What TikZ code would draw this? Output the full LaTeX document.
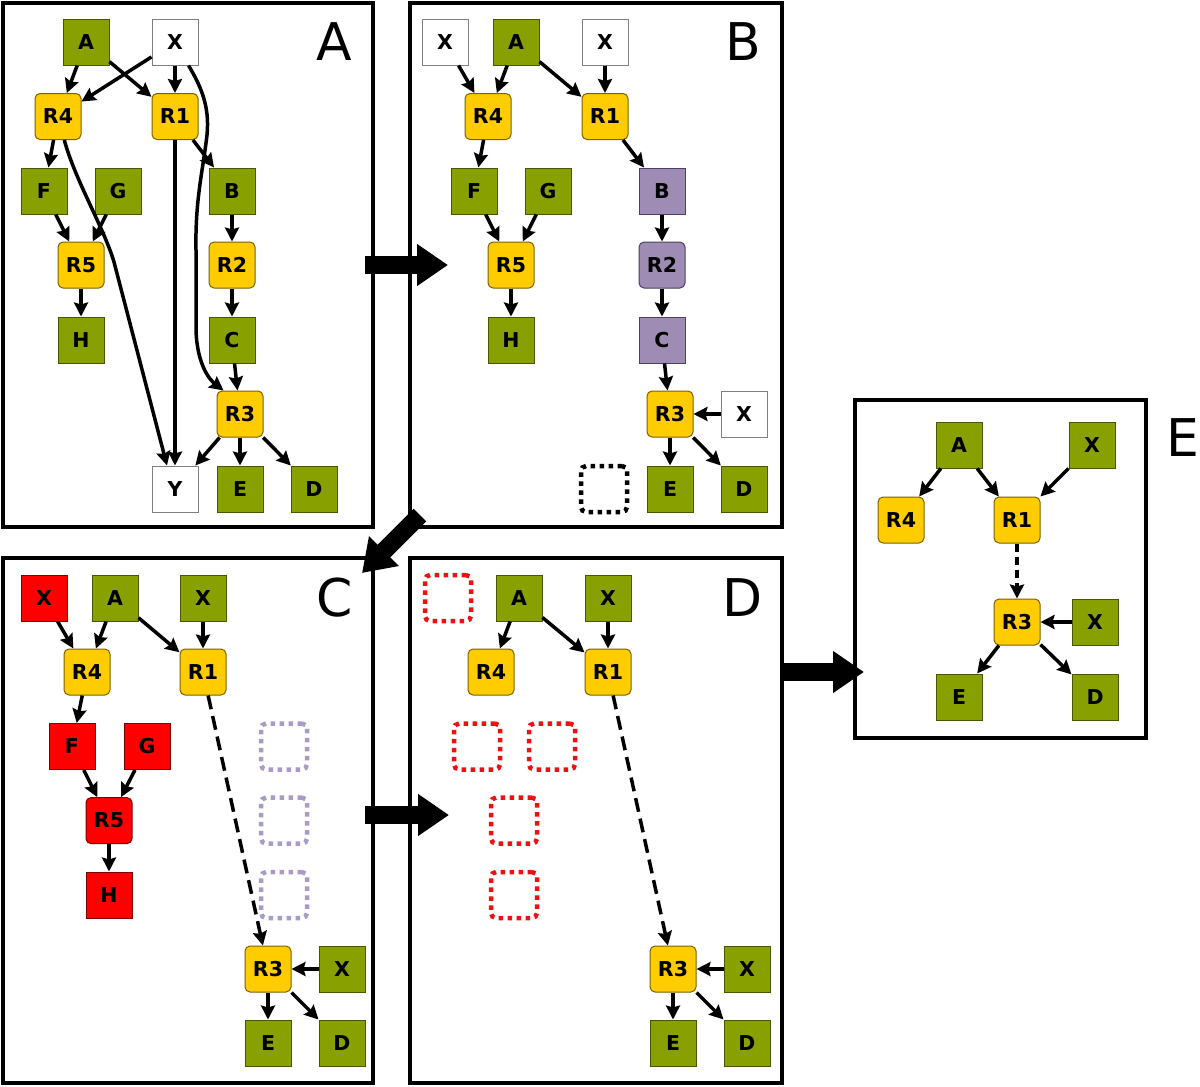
\documentclass[tikz,border=0pt]{standalone}
\usepackage{fontspec}
\setmainfont{DejaVu Sans}
\usetikzlibrary{arrows.meta,calc}
\definecolor{grn}{HTML}{88A000}
\definecolor{grnd}{HTML}{4A5600}
\definecolor{ylw}{HTML}{FFCC00}
\definecolor{ylwd}{HTML}{7A6200}
\definecolor{prp}{HTML}{9F8CB4}
\definecolor{prpd}{HTML}{4D4060}
\definecolor{prpl}{HTML}{A99BC3}
\definecolor{rdd}{HTML}{800000}
\definecolor{rdot}{HTML}{EE1111}
\begin{document}
\begin{tikzpicture}[x=1pt,y=-1pt,
 nd/.style={minimum size=46pt, inner sep=0pt, line width=1pt, font=\bfseries\fontsize{20.5}{22}\selectfont},
 gn/.style={nd, fill=grn, draw=grnd},
 wn/.style={nd, fill=white, draw=gray},
 yn/.style={nd, fill=ylw, draw=ylwd, rounded corners=5pt},
 pn/.style={nd, fill=prp, draw=prpd},
 pr/.style={pn, rounded corners=5pt},
 rn/.style={nd, fill=red, draw=rdd},
 rr/.style={rn, rounded corners=5pt},
 dotbox/.style={minimum size=46pt, inner sep=0pt, line width=4.5pt, dash pattern=on 4.5pt off 4.5pt, rounded corners=5pt},
 arr/.style={line width=3.5pt, -{Stealth[length=14pt,width=14pt,inset=2pt]}},
 dsh/.style={arr, dash pattern=on 14pt off 7pt},
 panelframe/.style={line width=4.5pt},
 big/.style={line width=18pt, -{Triangle[length=31pt,width=40pt]}},
 lbl/.style={font=\fontsize{52}{60}\selectfont, inner sep=0pt}
]
\useasboundingbox (0,0) rectangle (1200,1087);
\fill[white] (0,0) rectangle (1200,1087);

% frames
\draw[panelframe] (3,3) rectangle (373,527);
\draw[panelframe] (410,3) rectangle (782,527);
\draw[panelframe] (3,558) rectangle (373,1083);
\draw[panelframe] (410,558) rectangle (782,1083);
\draw[panelframe] (855,400) rectangle (1146,738);

% panel labels
\node[lbl] (labA) at (334,42) {A};
\node[lbl] (labB) at (743,42) {B};
\node[lbl] (labC) at (335,598) {C};
\node[lbl] (labD) at (743,598) {D};
\node[lbl] (labE) at (1183,438) {E};

% ---------- Panel A ----------
\node[gn] (aA) at (86,42) {A};
\node[wn] (aX) at (175,42) {X};
\node[yn] (aR4) at (58,116.5) {R4};
\node[yn] (aR1) at (175,116.5) {R1};
\node[gn] (aF) at (44,191) {F};
\node[gn] (aG) at (118,191) {G};
\node[gn] (aB) at (232,191) {B};
\node[yn] (aR5) at (81,265) {R5};
\node[yn] (aR2) at (232,265) {R2};
\node[gn] (aH) at (81,340) {H};
\node[gn] (aC) at (232,340) {C};
\node[yn] (aR3) at (240,414) {R3};
\node[wn] (aY) at (175,489) {Y};
\node[gn] (aE) at (240,489) {E};
\node[gn] (aD) at (314,489) {D};

\draw[arr] (aA) -- (aR4);
\draw[arr] (aX) -- (aR4);
\draw[arr] (aA) -- (aR1);
\draw[arr] (aX) -- (aR1);
\draw[arr] (aR4) -- (aF);
\draw[arr] (aR1) -- (aB);
\draw[arr] (aF) -- (aR5);
\draw[arr] (aG) -- (aR5);
\draw[arr] (aR5) -- (aH);
\draw[arr] (aB) -- (aR2);
\draw[arr] (aR2) -- (aC);
\draw[arr] (aC) -- (aR3);
\draw[arr] (aR3) -- (aY);
\draw[arr] (aR3) -- (aE);
\draw[arr] (aR3) -- (aD);
\draw[arr] (aR1) -- (aY);
\draw[arr] (aX.-60) .. controls (200,85) and (210,105) .. (207,135)
  .. controls (203,170) and (195,200) .. (196,250) -- (196,330)
  .. controls (197,365) and (210,380) .. (aR3.125);
\draw[arr] (aR4.-75) .. controls (75,180) and (104,228) .. (114,262) -- ($(aY.north)+(-8,0)$);

% ---------- Panel B ----------
\node[wn] (bX1) at (445,42) {X};
\node[gn] (bA) at (516,42) {A};
\node[wn] (bX2) at (605,42) {X};
\node[yn] (bR4) at (488,116.5) {R4};
\node[yn] (bR1) at (605,116.5) {R1};
\node[gn] (bF) at (474,191) {F};
\node[gn] (bG) at (548,191) {G};
\node[pn] (bB) at (662,191) {B};
\node[yn] (bR5) at (511,265) {R5};
\node[pr] (bR2) at (662,265) {R2};
\node[gn] (bH) at (511,340) {H};
\node[pn] (bC) at (662,340) {C};
\node[yn] (bR3) at (670,414) {R3};
\node[wn] (bX3) at (744,414) {X};
\node[gn] (bE) at (670,489) {E};
\node[gn] (bD) at (744,489) {D};
\node[dotbox, draw=black] (bdot) at (604,489) {};

\draw[arr] (bX1) -- (bR4);
\draw[arr] (bA) -- (bR4);
\draw[arr] (bA) -- (bR1);
\draw[arr] (bX2) -- (bR1);
\draw[arr] (bR4) -- (bF);
\draw[arr] (bR1) -- (bB);
\draw[arr] (bF) -- (bR5);
\draw[arr] (bG) -- (bR5);
\draw[arr] (bR5) -- (bH);
\draw[arr] (bB) -- (bR2);
\draw[arr] (bR2) -- (bC);
\draw[arr] (bC) -- (bR3);
\draw[arr] (bX3) -- (bR3);
\draw[arr] (bR3) -- (bE);
\draw[arr] (bR3) -- (bD);

% ---------- Panel C ----------
\node[rn] (cXr) at (44,598) {X};
\node[gn] (cA) at (115,598) {A};
\node[gn] (cX) at (203,598) {X};
\node[yn] (cR4) at (87,672) {R4};
\node[yn] (cR1) at (203,672) {R1};
\node[rn] (cF) at (72,746.5) {F};
\node[rn] (cG) at (147,746.5) {G};
\node[rr] (cR5) at (109,820.6) {R5};
\node[rn] (cH) at (109,895) {H};
\node[dotbox, draw=prpl] (cd1) at (284,746.5) {};
\node[dotbox, draw=prpl] (cd2) at (284,820.6) {};
\node[dotbox, draw=prpl] (cd3) at (284,895) {};
\node[yn] (cR3) at (268,969) {R3};
\node[gn] (cX3) at (342,969) {X};
\node[gn] (cE) at (268,1043) {E};
\node[gn] (cD) at (342,1043) {D};

\draw[arr] (cXr) -- (cR4);
\draw[arr] (cA) -- (cR4);
\draw[arr] (cA) -- (cR1);
\draw[arr] (cX) -- (cR1);
\draw[arr] (cR4) -- (cF);
\draw[arr] (cF) -- (cR5);
\draw[arr] (cG) -- (cR5);
\draw[arr] (cR5) -- (cH);
\draw[dsh] (cR1) -- (cR3);
\draw[arr] (cX3) -- (cR3);
\draw[arr] (cR3) -- (cE);
\draw[arr] (cR3) -- (cD);

% ---------- Panel D ----------
\node[dotbox, draw=rdot] (dd0) at (448,598) {};
\node[gn] (dA) at (519,598) {A};
\node[gn] (dX) at (608,598) {X};
\node[yn] (dR4) at (491,672) {R4};
\node[yn] (dR1) at (608,672) {R1};
\node[dotbox, draw=rdot] (dd1) at (477,746.5) {};
\node[dotbox, draw=rdot] (dd2) at (552,746.5) {};
\node[dotbox, draw=rdot] (dd3) at (514,820.6) {};
\node[dotbox, draw=rdot] (dd4) at (514,895) {};
\node[yn] (dR3) at (673,969) {R3};
\node[gn] (dX3) at (747,969) {X};
\node[gn] (dE) at (673,1043) {E};
\node[gn] (dD) at (747,1043) {D};

\draw[arr] (dA) -- (dR4);
\draw[arr] (dA) -- (dR1);
\draw[arr] (dX) -- (dR1);
\draw[dsh] (dR1) -- (dR3);
\draw[arr] (dX3) -- (dR3);
\draw[arr] (dR3) -- (dE);
\draw[arr] (dR3) -- (dD);

% ---------- Panel E ----------
\node[gn] (eA) at (959,445) {A};
\node[gn] (eX) at (1092,445) {X};
\node[yn] (eR4) at (901,520) {R4};
\node[yn] (eR1) at (1017,520) {R1};
\node[yn] (eR3) at (1017,622) {R3};
\node[gn] (eX3) at (1095,622) {X};
\node[gn] (eE) at (959,697) {E};
\node[gn] (eD) at (1095,697) {D};

\draw[arr] (eA) -- (eR4);
\draw[arr] (eA) -- (eR1);
\draw[arr] (eX) -- (eR1);
\draw[arr, dash pattern=on 8pt off 5pt] (eR1) -- (eR3);
\draw[arr] (eX3) -- (eR3);
\draw[arr] (eR3) -- (eE);
\draw[arr] (eR3) -- (eD);

% ---------- block arrows between panels ----------
\coordinate (ab1) at (365,265); \coordinate (ab2) at (448,265);
\coordinate (bc1) at (420,515); \coordinate (bc2) at (362,573);
\coordinate (cd1s) at (365,815); \coordinate (cd2s) at (449,815);
\coordinate (de1) at (782,672); \coordinate (de2) at (864,672);
\draw[big] (ab1) -- (ab2);
\draw[big] (bc1) -- (bc2);
\draw[big] (cd1s) -- (cd2s);
\draw[big] (de1) -- (de2);
\end{tikzpicture}
\end{document}
